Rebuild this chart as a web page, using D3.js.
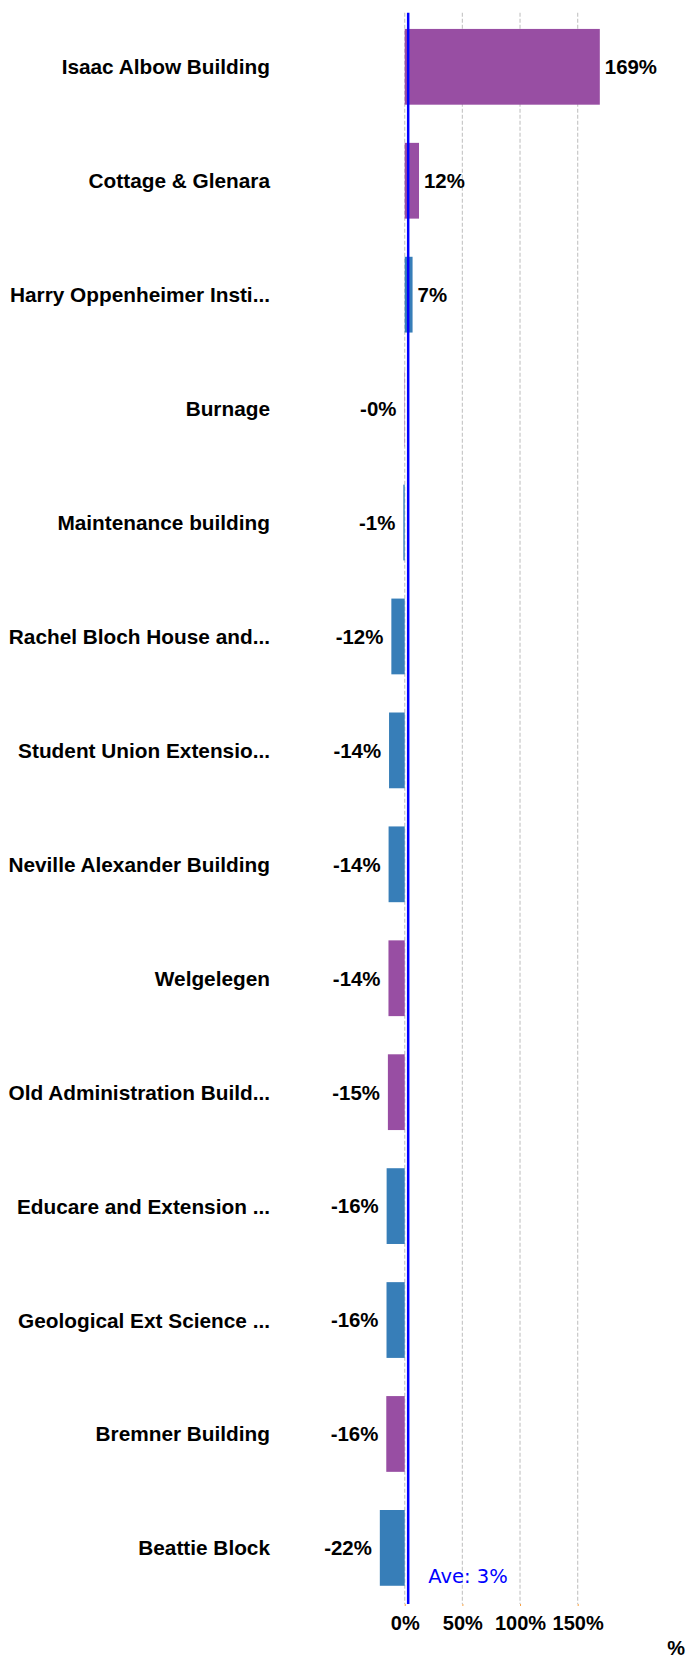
<!DOCTYPE html>
<html>
<head>
<meta charset="utf-8">
<script src="https://cdn.jsdelivr.net/npm/d3@7"></script>
<style>
html,body{margin:0;padding:0;background:#fff;}
svg{display:block;}
</style>
</head>
<body>
<div id="chart"></div>
<script>
const categories = ["Isaac Albow Building","Cottage & Glenara","Harry Oppenheimer Insti...","Burnage","Maintenance building","Rachel Bloch House and...","Student Union Extensio...","Neville Alexander Building","Welgelegen","Old Administration Build...","Educare and Extension ...","Geological Ext Science ...","Bremner Building","Beattie Block"];
const values = [169.2, 12.4, 6.8, -0.3, -1.2, -11.6, -13.6, -14.0, -14.1, -14.6, -15.7, -15.8, -16.0, -21.6];
const groups = ["b","b","a","b","a","a","a","a","b","b","a","a","b","a"];
const tickValues = [0, 50, 100, 150];
const average = 3;
const axisTitle = "%";

const W = 688, H = 1659;
const colors = {a: "#377eb8", b: "#984ea3"};
const svg = d3.select("#chart").append("svg").attr("width", W).attr("height", H);

const x = d3.scaleLinear().domain([-25, 175]).range([375.9, 606.5]);
const y = d3.scaleBand().domain(categories).range([10.7, 1604]).paddingInner(0.335).paddingOuter(0.16);
const gridTop = 12.7, gridBottom = 1604;

// gridlines
svg.append("g").selectAll("line").data(tickValues).join("line")
  .attr("x1", d => x(d)).attr("x2", d => x(d))
  .attr("y1", gridTop).attr("y2", gridBottom)
  .attr("stroke", "#c8c8c8").attr("stroke-width", 1.2).attr("stroke-dasharray", "4,2");

// bars
const data = categories.map((c, i) => ({c, v: values[i], g: groups[i]}));
svg.append("g").selectAll("rect").data(data).join("rect")
  .attr("x", d => Math.min(x(0), x(d.v)))
  .attr("width", d => Math.abs(x(d.v) - x(0)))
  .attr("y", d => y(d.c))
  .attr("height", y.bandwidth())
  .attr("fill", d => colors[d.g]);

// value labels
const fmt = v => (v < 0 ? "-" : "") + Math.abs(Math.round(v)) + "%";
svg.append("g").selectAll("text").data(data).join("text")
  .attr("x", d => d.v >= 0 ? x(d.v) + 5 : x(d.v) - 8)
  .attr("y", d => y(d.c) + y.bandwidth() / 2)
  .attr("dy", "0.36em")
  .attr("text-anchor", d => d.v >= 0 ? "start" : "end")
  .attr("font-family", "Liberation Sans, Arial, sans-serif")
  .attr("font-weight", "bold").attr("font-size", 20.4).attr("fill", "#000")
  .text(d => fmt(d.v));

// category labels
svg.append("g").selectAll("text").data(categories).join("text")
  .attr("x", 270)
  .attr("y", d => y(d) + y.bandwidth() / 2)
  .attr("dy", "0.36em")
  .attr("text-anchor", "end")
  .attr("font-family", "Liberation Sans, Arial, sans-serif")
  .attr("font-weight", "bold").attr("font-size", 20.8).attr("fill", "#000")
  .text(d => d);

// average line
svg.append("line")
  .attr("x1", x(average)).attr("x2", x(average))
  .attr("y1", gridTop).attr("y2", gridBottom)
  .attr("stroke", "#0000ff").attr("stroke-width", 2.5);
svg.append("text")
  .attr("x", 428.3).attr("y", 1583)
  .attr("font-family", "DejaVu Sans, Verdana, sans-serif")
  .attr("font-size", 19.5).attr("fill", "#0000ff")
  .text("Ave: " + average + "%");

// x axis
const axis = d3.axisBottom(x).tickValues(tickValues).tickSize(2).tickPadding(10).tickFormat(d => d + "%");
const gAxis = svg.append("g").attr("transform", `translate(0,${gridBottom})`).call(axis);
gAxis.select(".domain").remove();
gAxis.selectAll(".tick line").attr("stroke", "#f7a040");
gAxis.selectAll(".tick text")
  .attr("font-family", "Liberation Sans, Arial, sans-serif")
  .attr("font-weight", "bold").attr("font-size", 20).attr("fill", "#000");

svg.append("text")
  .attr("x", 685).attr("y", 1655).attr("text-anchor", "end")
  .attr("font-family", "Liberation Sans, Arial, sans-serif")
  .attr("font-weight", "bold").attr("font-size", 20).attr("fill", "#000")
  .text(axisTitle);
</script>
</body>
</html>
